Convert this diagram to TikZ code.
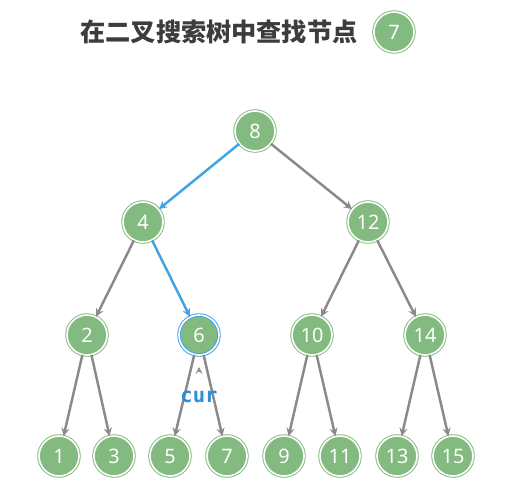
\documentclass[tikz,border=0pt]{standalone}
\usepackage{fontspec}
\setmainfont{Noto Sans}
\newfontfamily\curfont[BoldFont={DejaVu Sans Mono Bold}]{DejaVu Sans Mono}
\newfontfamily\cjk{Noto Sans CJK SC}
\usepackage{tikz}
\usetikzlibrary{arrows.meta}
\definecolor{treegreen}{HTML}{82BA7F}
\definecolor{edgegray}{HTML}{8A8A8A}
\definecolor{pathblue}{HTML}{3FA3E6}
\definecolor{curblue}{HTML}{2C8ED6}
\definecolor{titlegray}{HTML}{3C3C3C}

\begin{document}
\begin{tikzpicture}[
  x=0.03cm, y=-0.03cm,
  treenode/.style={circle, fill=treegreen, draw=treegreen, double=white, double distance=1.4pt, line width=0.8pt, minimum size=1.2cm, inner sep=0pt, text=white, font=\fontsize{17}{19}\selectfont},
  curnode/.style={treenode, draw=pathblue},
  edge/.style={-{Stealth[length=7pt,width=7pt,inset=2.5pt]}, draw=edgegray, line width=2.1pt},
  path/.style={edge, draw=pathblue}
]
\useasboundingbox (0,0) rectangle (511,501);
% title
\node[text=titlegray, font=\cjk\bfseries\fontsize{21.5}{25}\selectfont] (title) at (219,32) {在二叉搜索树中查找节点};
\node[treenode] (target) at (394,32) {7};
% tree
\node[treenode] (n8) at (255,131) {8};
\node[treenode] (n4) at (143,222) {4};
\node[treenode] (n12) at (368,222) {12};
\node[treenode] (n2) at (87,335) {2};
\node[curnode] (n6) at (199,335) {6};
\node[treenode] (n10) at (312,335) {10};
\node[treenode] (n14) at (425,335) {14};
\node[treenode] (n1) at (59,456) {1};
\node[treenode] (n3) at (114,456) {3};
\node[treenode] (n5) at (170,456) {5};
\node[treenode] (n7) at (227,456) {7};
\node[treenode] (n9) at (284,456) {9};
\node[treenode] (n11) at (340,456) {11};
\node[treenode] (n13) at (397,456) {13};
\node[treenode] (n15) at (453,456) {15};
\draw[path] (n8) -- (n4);
\draw[edge] (n8) -- (n12);
\draw[edge] (n4) -- (n2);
\draw[path] (n4) -- (n6);
\draw[edge] (n12) -- (n10);
\draw[edge] (n12) -- (n14);
\draw[edge] (n2) -- (n1);
\draw[edge] (n2) -- (n3);
\draw[edge] (n6) -- (n5);
\draw[edge] (n6) -- (n7);
\draw[edge] (n10) -- (n9);
\draw[edge] (n10) -- (n11);
\draw[edge] (n14) -- (n13);
\draw[edge] (n14) -- (n15);
% pointer
\node[text=curblue, font=\curfont\bfseries\fontsize{17.5}{19}\selectfont] (cur) at (199,397) {cur};
\coordinate (curtip) at (199,367);
\draw[-{Stealth[length=6pt,width=6pt,inset=2.5pt]}, draw=edgegray, line width=0.6pt] (199,372) -- (curtip);
\end{tikzpicture}
\end{document}
